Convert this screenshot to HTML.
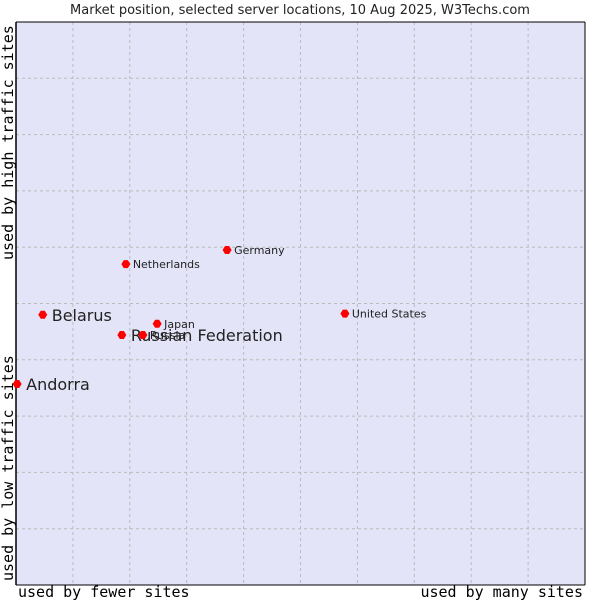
<!DOCTYPE html>
<html><head><meta charset="utf-8"><style>
body{margin:0;background:#fff;width:600px;height:600px;overflow:hidden}
svg text{font-family:"DejaVu Sans","Liberation Sans",sans-serif}
.mono{font-family:"DejaVu Sans Mono","Liberation Mono",monospace !important;font-size:15px}
</style></head><body>
<svg width="600" height="600">
<text x="300" y="14" text-anchor="middle" font-size="13" fill="#222">Market position, selected server locations, 10 Aug 2025, W3Techs.com</text>
<rect x="16" y="22" width="569" height="563" fill="#e3e4f8"/>
<g id="grid"></g>
<line x1="16" y1="22" x2="16" y2="585" stroke="#000" stroke-width="1.5"/>
<line x1="16" y1="22" x2="585" y2="22" stroke="#000"/>
<line x1="585" y1="22" x2="585" y2="585" stroke="#000"/>
<line x1="16" y1="585" x2="585" y2="585" stroke="#000"/>
<g id="pts"></g>
<text class="mono" transform="translate(13,260) rotate(-90)">used by high traffic sites</text>
<text class="mono" transform="translate(13,581) rotate(-90)">used by low traffic sites</text>
<text class="mono" x="18" y="597">used by fewer sites</text>
<text class="mono" x="583" y="597" text-anchor="end">used by many sites</text>
</svg>
<script>
const names=["Andorra","Belarus","Russian Federation","Russia","Japan","Netherlands","Germany","United States"];
const xVals=[0.2,4.7,18.6,22.3,24.8,19.3,37.1,57.8];
const yVals=[35.7,48.0,44.4,44.4,46.4,57.0,59.5,48.2];
const big=[true,true,true,false,false,false,false,false];
const NS="http://www.w3.org/2000/svg";
const X=v=>16+v/100*569, Y=v=>585-v/100*563;
const g=document.getElementById('grid');
for(let i=1;i<10;i++){
 let l=document.createElementNS(NS,'line');
 
 
 l.setAttribute('x1',X(i*10));l.setAttribute('x2',X(i*10));l.setAttribute('y1',22);l.setAttribute('y2',585);
 l.setAttribute('stroke','#bbb');l.setAttribute('stroke-dasharray','3,3');g.appendChild(l);
 let m=document.createElementNS(NS,'line');
 
 
 m.setAttribute('y1',Y(i*10));m.setAttribute('y2',Y(i*10));m.setAttribute('x1',16);m.setAttribute('x2',585);
 m.setAttribute('stroke','#bbb');m.setAttribute('stroke-dasharray','3,3');g.appendChild(m);
}
const p=document.getElementById('pts');
names.forEach((n,i)=>{
 const cx=X(xVals[i]),cy=Y(yVals[i]);
 let c=document.createElementNS(NS,'path');
 
 
 c.setAttribute('d',`M${cx-4.5},${cy} L${cx-2},${cy-4} L${cx+2},${cy-4} L${cx+4.5},${cy} L${cx+2},${cy+4} L${cx-2},${cy+4}Z`);
 c.setAttribute('fill','#f00');p.appendChild(c);
 let t=document.createElementNS(NS,'text');
 
 
 t.setAttribute('x',cx+(big[i]?9:7));t.setAttribute('y',cy+(big[i]?6:4));
 t.setAttribute('font-size',big[i]?16:11);t.setAttribute('fill','#222');
 t.textContent=n;p.appendChild(t);
});
</script>
</body></html>
